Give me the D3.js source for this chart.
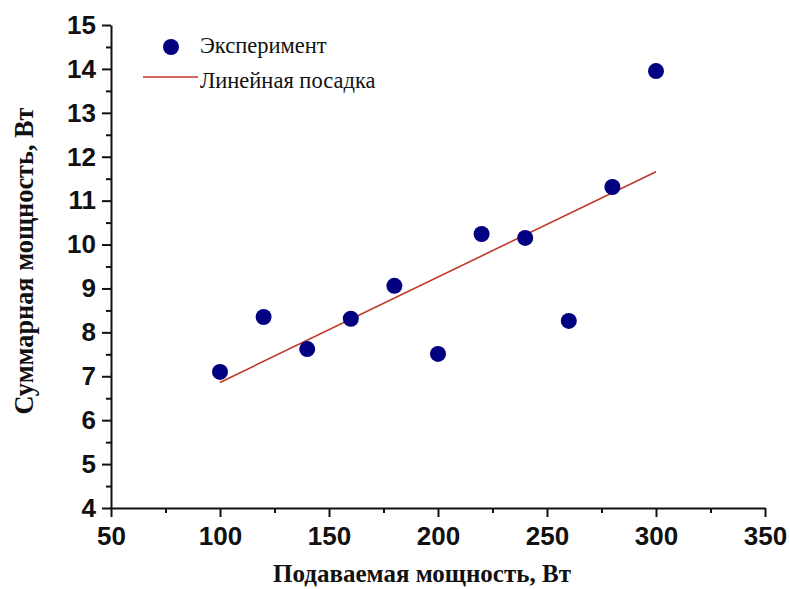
<!DOCTYPE html>
<html>
<head>
<meta charset="utf-8">
<script src="https://cdn.jsdelivr.net/npm/d3@7/dist/d3.min.js"></script>
<style>
  html, body { margin: 0; padding: 0; background: #fff; }
  svg { display: block; }
</style>
</head>
<body>
<svg id="chart" width="790" height="589"></svg>
<script>
// Measured points: input power (W) vs total power (W)
const inputPower = [100, 120, 140, 160, 180, 200, 220, 240, 260, 280, 300];
const totalPower = [7.10, 8.35, 7.62, 8.31, 9.06, 7.51, 10.24, 10.15, 8.26, 11.31, 13.95];

// Linear fit endpoints
const fitX = [100, 300];
const fitY = [6.86, 11.66];

const xTicks = [50, 100, 150, 200, 250, 300, 350];
const yTicks = [4, 5, 6, 7, 8, 9, 10, 11, 12, 13, 14, 15];
const xMinorTicks = [75, 125, 175, 225, 275, 325];
const yMinorTicks = [4.5, 5.5, 6.5, 7.5, 8.5, 9.5, 10.5, 11.5, 12.5, 13.5, 14.5];

const legendLabels = ["Эксперимент", "Линейная посадка"];
const xTitle = "Подаваемая мощность, Вт";
const yTitle = "Суммарная мощность, Вт";

const svg = d3.select("#chart");
const plotLeft = 111, plotRight = 765, plotTop = 25, plotBottom = 508;

const x = d3.scaleLinear().domain([50, 350]).range([plotLeft, plotRight]);
const y = d3.scaleLinear().domain([4, 15]).range([plotBottom, plotTop]);

const tickFont = "'Liberation Sans', Arial, sans-serif";
const serif = "'Liberation Serif', 'Times New Roman', serif";

// X axis
const gx = svg.append("g").attr("transform", `translate(0,${plotBottom})`);
gx.call(d3.axisBottom(x).tickValues(xTicks).tickSize(9).tickSizeOuter(0).tickPadding(10).tickFormat(d3.format("d")));
gx.append("g").call(d3.axisBottom(x).tickValues(xMinorTicks).tickSize(5).tickSizeOuter(0).tickFormat(""))
  .select(".domain").remove();

// Y axis
const gy = svg.append("g").attr("transform", `translate(${plotLeft},0)`);
gy.call(d3.axisLeft(y).tickValues(yTicks).tickSize(9).tickSizeOuter(0).tickPadding(6).tickFormat(d3.format("d")));
gy.append("g").call(d3.axisLeft(y).tickValues(yMinorTicks).tickSize(5).tickSizeOuter(0).tickFormat(""))
  .select(".domain").remove();

svg.selectAll(".domain").attr("stroke", "#111").attr("stroke-width", 2);
svg.selectAll(".tick line").attr("stroke", "#111").attr("stroke-width", 2);
svg.selectAll(".tick text")
  .attr("font-family", tickFont)
  .attr("font-weight", "bold")
  .attr("font-size", 26)
  .attr("fill", "#111");

// Axis titles
svg.append("text")
  .attr("x", 422)
  .attr("y", 582)
  .attr("text-anchor", "middle")
  .attr("font-family", serif)
  .attr("font-weight", "bold")
  .attr("font-size", 25)
  .attr("fill", "#111")
  .text(xTitle);

svg.append("text")
  .attr("transform", "translate(33,261) rotate(-90)")
  .attr("text-anchor", "middle")
  .attr("font-family", serif)
  .attr("font-weight", "bold")
  .attr("font-size", 26.3)
  .attr("fill", "#111")
  .text(yTitle);

// Fit line
svg.append("line")
  .attr("x1", x(fitX[0])).attr("y1", y(fitY[0]))
  .attr("x2", x(fitX[1])).attr("y2", y(fitY[1]))
  .attr("stroke", "#c0392b")
  .attr("stroke-width", 1.6);

// Data points
svg.append("g").selectAll("circle")
  .data(inputPower.map((d, i) => [d, totalPower[i]]))
  .join("circle")
  .attr("cx", d => x(d[0]))
  .attr("cy", d => y(d[1]))
  .attr("r", 8)
  .attr("fill", "#000080");

// Legend
const lg = svg.append("g");
lg.append("circle").attr("cx", 171).attr("cy", 47).attr("r", 8).attr("fill", "#000080");
lg.append("line").attr("x1", 143).attr("x2", 198).attr("y1", 77).attr("y2", 77)
  .attr("stroke", "#c0392b").attr("stroke-width", 1.6);
lg.selectAll("text").data(legendLabels).join("text")
  .attr("x", 200)
  .attr("y", (d, i) => 53 + i * 35)
  .attr("font-family", serif)
  .attr("font-size", 22.5)
  .attr("fill", "#111")
  .text(d => d);
</script>
</body>
</html>
